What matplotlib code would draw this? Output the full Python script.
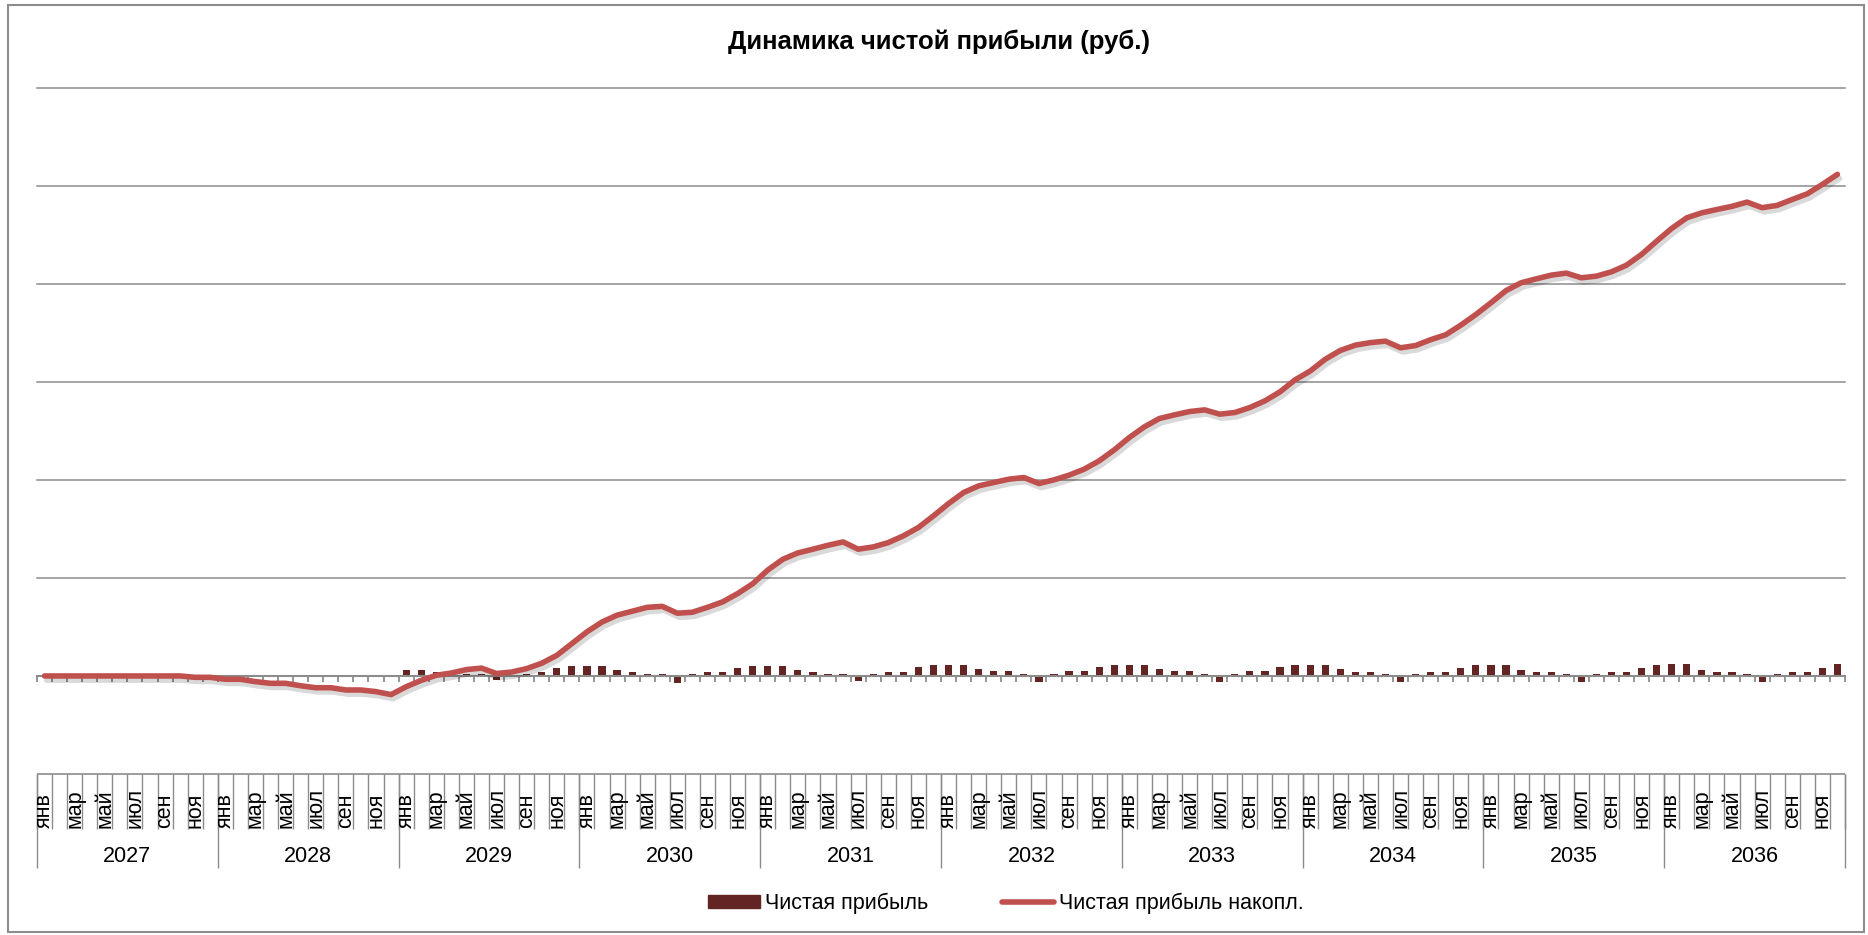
import matplotlib
matplotlib.use("Agg")
import matplotlib.pyplot as plt
import matplotlib.patheffects as pe
import matplotlib.transforms as mtransforms
from matplotlib.patches import Rectangle
from matplotlib.lines import Line2D
import numpy as np

plt.rcParams['font.family'] = ['Liberation Sans', 'DejaVu Sans']

# data (units = one gridline step, the chart has no value labels)
years = ["2027", "2028", "2029", "2030", "2031", "2032", "2033", "2034", "2035", "2036"]
months = ["янв", "фев", "мар", "апр", "май", "июн", "июл", "авг", "сен", "окт", "ноя", "дек"]

profit = [
    0, 0, 0, 0, 0, 0, 0, 0, 0, 0, -0.013, -0.013,
    -0.013, -0.013, -0.013, -0.013, -0.013, -0.013, -0.013, -0.013, -0.013, -0.013, -0.013, -0.013,
    0.065, 0.065, 0.04, 0.008, 0.017, 0.017, -0.045, 0.005, 0.017, 0.04, 0.08, 0.105,
    0.105, 0.105, 0.065, 0.04, 0.02, 0.02, -0.07, 0.02, 0.04, 0.04, 0.08, 0.105,
    0.105, 0.105, 0.065, 0.04, 0.02, 0.02, -0.055, 0.025, 0.045, 0.045, 0.09, 0.11,
    0.11, 0.11, 0.07, 0.047, 0.047, 0.025, -0.062, 0.025, 0.047, 0.047, 0.09, 0.11,
    0.11, 0.11, 0.07, 0.047, 0.047, 0.025, -0.062, 0.025, 0.047, 0.047, 0.09, 0.11,
    0.11, 0.11, 0.068, 0.045, 0.045, 0.024, -0.058, 0.024, 0.044, 0.044, 0.085, 0.107,
    0.107, 0.107, 0.065, 0.044, 0.044, 0.024, -0.058, 0.024, 0.044, 0.044, 0.085, 0.107,
    0.125, 0.125, 0.065, 0.044, 0.044, 0.024, -0.058, 0.024, 0.044, 0.044, 0.085, 0.125,
]

profit_cum = [
    0, 0, 0, 0, 0, 0, 0, 0, 0, 0, -0.014, -0.014,
    -0.034, -0.034, -0.058, -0.075, -0.075, -0.10, -0.12, -0.12, -0.143, -0.143, -0.16, -0.19,
    -0.11, -0.045, 0.007, 0.03, 0.065, 0.08, 0.025, 0.04, 0.075, 0.13, 0.21, 0.33,
    0.45, 0.55, 0.62, 0.66, 0.70, 0.71, 0.64, 0.65, 0.70, 0.755, 0.84, 0.94,
    1.08, 1.19, 1.255, 1.293, 1.333, 1.367, 1.293, 1.316, 1.36, 1.429, 1.514, 1.633,
    1.758, 1.871, 1.939, 1.973, 2.007, 2.024, 1.963, 2.0, 2.048, 2.109, 2.194, 2.306,
    2.432, 2.541, 2.626, 2.663, 2.697, 2.714, 2.67, 2.687, 2.738, 2.806, 2.898, 3.02,
    3.11, 3.23, 3.32, 3.374, 3.40, 3.415, 3.347, 3.37, 3.43, 3.48, 3.578, 3.687,
    3.806, 3.93, 4.01, 4.05, 4.088, 4.109, 4.061, 4.078, 4.122, 4.19, 4.3, 4.435,
    4.565, 4.673, 4.724, 4.758, 4.79, 4.833, 4.776, 4.80, 4.86, 4.918, 5.014, 5.116,
]

bar_color = "#632523"
line_color = "#C0504D"
grey = "#8c8c8c"
W, H = 1868, 935

fig = plt.figure(figsize=(W / 100, H / 100), dpi=100)
fig.patch.set_facecolor("white")

# outer chart border
fig.patches.append(Rectangle((8 / W, 3 / H), (1864 - 8) / W, (930 - 3) / H,
                             transform=fig.transFigure, fill=False, ec=grey, lw=1.5))

left, right, top, bottom = 37, 1845, 87.7, 774
ax = fig.add_axes([left / W, 1 - bottom / H, (right - left) / W, (bottom - top) / H])

n = len(profit)
x = np.arange(n)
ax.bar(x, profit, width=0.48, color=bar_color, zorder=2)
ax.plot(x, profit_cum, color=line_color, lw=4.0, zorder=3,
        solid_capstyle="round", solid_joinstyle="round",
        path_effects=[pe.SimpleLineShadow(offset=(1.5, -3), shadow_color="k", alpha=0.15),
                      pe.Normal()])

ax.set_xlim(-0.5, n - 0.5)
ax.set_ylim(-1, 6)

# horizontal gridlines, no value labels
ax.set_yticks(range(0, 7))
ax.tick_params(axis="y", length=0, labelleft=False)
ax.grid(axis="y", color=grey, lw=1.1, zorder=0)
for gl in ax.get_ygridlines():
    gl.set_clip_on(False)

# category axis crossing at zero with ticks between months
for s in ["left", "right", "top"]:
    ax.spines[s].set_visible(False)
ax.spines["bottom"].set_position(("data", 0))
ax.spines["bottom"].set_color(grey)
ax.spines["bottom"].set_linewidth(1.5)
ax.set_xticks(np.arange(-0.5, n, 1))
ax.tick_params(axis="x", direction="out", length=4.5, width=1.3, color=grey, labelbottom=False)

# category table under the plot (months + years)
trans = mtransforms.blended_transform_factory(ax.transData, fig.transFigure)
y_top = 1 - bottom / H
y_month = 1 - 829 / H
y_year = 1 - 868 / H
ax.hlines(y_top, -0.5, n - 0.5, transform=trans, color=grey, lw=1.2, clip_on=False)
ax.vlines(np.arange(-0.5, n, 1), y_month, y_top, transform=trans, color=grey, lw=1.0, clip_on=False)
ax.vlines(np.arange(-0.5, n + 1, 12), y_year, y_top, transform=trans, color=grey, lw=1.0, clip_on=False)
for i in range(0, n, 2):
    ax.text(i, 1 - 828 / H, months[i % 12], rotation=90, rotation_mode="anchor",
            ha="left", va="center", fontsize=15.5, transform=trans)
for k, yr in enumerate(years):
    ax.text(12 * k + 5.5, 1 - 857 / H, yr, ha="center", va="center", fontsize=15.5, transform=trans)

fig.text(939 / W, 1 - 42 / H, "Динамика чистой прибыли (руб.)", ha="center", va="center",
         fontsize=18.5, fontweight="bold")

handles = [Rectangle((0, 0), 1, 1, color=bar_color),
           Line2D([], [], color=line_color, lw=4.0, solid_capstyle="round")]
fig.legend(handles, ["Чистая прибыль", "Чистая прибыль накопл."], loc="center",
           bbox_to_anchor=(1006 / W, 1 - 903 / H), ncol=2, frameon=False, fontsize=15.5,
           handlelength=2.4, handleheight=0.55, handletextpad=0.25, columnspacing=3.4)

fig.savefig("out.png", dpi=100)
